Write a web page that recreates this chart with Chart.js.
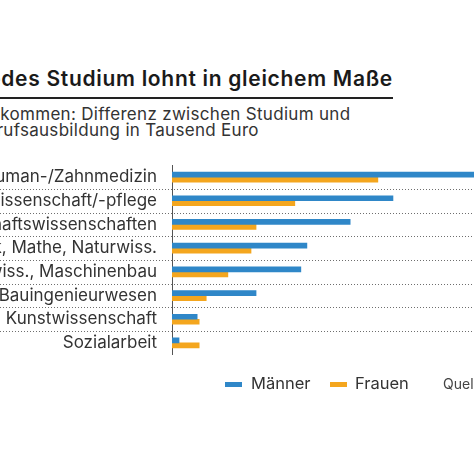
<!DOCTYPE html>
<html lang="de">
<head>
<meta charset="utf-8">
<title>Nicht jedes Studium lohnt in gleichem Maße</title>
<script src="https://cdn.jsdelivr.net/npm/chart.js@4/dist/chart.umd.min.js"></script>
<style>
  html, body { margin: 0; padding: 0; background: #fff; }
  body { width: 474px; height: 463px; position: relative; overflow: hidden; font-family: Inter, "Open Sans", sans-serif; color: #222; }
  .title { position: absolute; right: 81px; top: 68px; font-size: 21px; letter-spacing: 0.7px; line-height: 21px; font-weight: 600; white-space: nowrap; padding-bottom: 8px; border-bottom: 2px solid #222; color: #1a1a1a; }
  .subtitle { position: absolute; left: -25px; top: 107px; font-size: 17px; letter-spacing: 0.3px; line-height: 15.5px; white-space: nowrap; color: #333; }
  .chart-box { position: absolute; left: 0; top: 140px; width: 474px; height: 240px; }
  .legend span { position: absolute; white-space: nowrap; }
  .legend .swatch { width: 17px; height: 5px; top: 382px; }
  .legend .label { top: 375px; font-size: 16.5px; line-height: 17px; color: #333; }
  .source { position: absolute; left: 443px; top: 377px; font-size: 14px; line-height: 13px; color: #444; white-space: nowrap; }
</style>
</head>
<body>
<div class="title">Nicht jedes Studium lohnt in gleichem Maße</div>
<div class="subtitle">Einkommen: Differenz zwischen Studium und<br>Berufsausbildung in Tausend Euro</div>
<div class="chart-box"><canvas id="chart"></canvas></div>
<div class="legend" id="legend"></div>
<div class="source">Quelle: IW Köln</div>
<script>
  // categories and values (Tausend Euro)
  const categories = [
    'Human-/Zahnmedizin',
    'Gesundheitswissenschaft/-pflege',
    'Wirtschaftswissenschaften',
    'Informatik, Mathe, Naturwiss.',
    'Ingenieurwiss., Maschinenbau',
    'Architektur, Bauingenieurwesen',
    'Musik, Kunstwissenschaft',
    'Sozialarbeit'
  ];
  const maenner = [720, 439, 354, 268, 256, 167, 50, 14];
  const frauen = [409, 244, 167, 157, 111, 68, 54, 54];
  const seriesLabels = ['Männer', 'Frauen'];
  const seriesColors = ['#2f87c8', '#f4a61e'];
  const axisMax = 600;

  // dotted separators between the category rows
  const rowLines = {
    id: 'rowLines',
    afterDraw(chart) {
      const y = chart.scales.y;
      const ctx = chart.ctx;
      ctx.save();
      ctx.strokeStyle = '#6e6e6e';
      ctx.lineWidth = 1;
      ctx.setLineDash([1, 2]);
      for (let i = 0; i < categories.length - 1; i++) {
        const py = Math.round((y.getPixelForValue(i) + y.getPixelForValue(i + 1)) / 2) + 0.5;
        ctx.beginPath();
        ctx.moveTo(0, py);
        ctx.lineTo(chart.width, py);
        ctx.stroke();
      }
      ctx.restore();
    }
  };

  new Chart(document.getElementById('chart'), {
    type: 'bar',
    data: {
      labels: categories,
      datasets: [
        { label: seriesLabels[0], data: maenner, backgroundColor: seriesColors[0] },
        { label: seriesLabels[1], data: frauen, backgroundColor: seriesColors[1] }
      ]
    },
    options: {
      indexAxis: 'y',
      responsive: true,
      maintainAspectRatio: false,
      animation: false,
      layout: { padding: { top: 5, bottom: 3, left: 0, right: 0 } },
      datasets: { bar: { barThickness: 5, categoryPercentage: 0.9 } },
      plugins: { legend: { display: false }, tooltip: { enabled: false } },
      scales: {
        x: { display: false, min: 0, max: axisMax },
        y: {
          grid: { display: false, drawTicks: false },
          border: { display: true, color: '#555', width: 1 },
          ticks: { color: '#333', padding: 15, font: { family: 'Inter', size: 17 } },
          afterFit(scale) { scale.width = 172; }
        }
      }
    },
    plugins: [rowLines]
  });

  // legend under the chart
  const legend = document.getElementById('legend');
  const swatchX = [225, 330];
  const labelX = [251, 355];
  seriesLabels.forEach(function (name, i) {
    const sw = document.createElement('span');
    sw.className = 'swatch';
    sw.style.left = swatchX[i] + 'px';
    sw.style.background = seriesColors[i];
    legend.appendChild(sw);
    const tx = document.createElement('span');
    tx.className = 'label';
    tx.style.left = labelX[i] + 'px';
    tx.textContent = name;
    legend.appendChild(tx);
  });
</script>
</body>
</html>
